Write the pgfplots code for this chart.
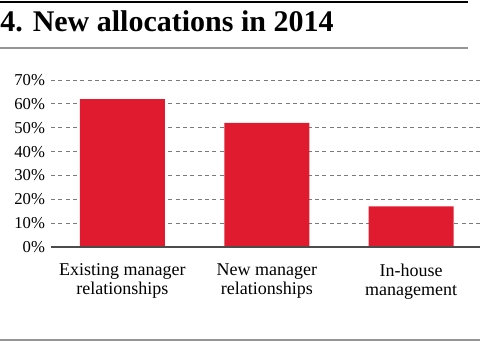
\documentclass[border=0pt]{standalone}
\usepackage{pgfplots}
\pgfplotsset{compat=1.18}
\usepackage{fontspec}
\setmainfont{Liberation Serif}
\definecolor{barred}{HTML}{E01B2F}
\definecolor{gridgray}{HTML}{7A7A7A}
\begin{document}
\begin{tikzpicture}
\useasboundingbox (0pt,0pt) rectangle (360pt,256.5pt);
% decorative rules
\draw[black, line width=2.2pt] (0pt,255pt) -- (351pt,255pt);
\draw[gridgray!80, line width=0.8pt] (0pt,220.5pt) -- (351pt,220.5pt);
\draw[gridgray!80, line width=0.8pt] (0pt,1.5pt) -- (360pt,1.5pt);
\node[anchor=base west, inner sep=0pt, font=\fontsize{22.5}{26}\selectfont\bfseries] at (0pt,233pt) {4. New allocations in 2014};
\begin{axis}[
  at={(38.25pt,71.25pt)}, anchor=south west,
  scale only axis, width=321.75pt, height=125.25pt,
  ymin=0, ymax=70, ytick={0,10,...,70},
  xmin=-0.495, xmax=2.477,
  xtick={0,1,2},
  xticklabels={Existing manager\\relationships, New manager\\relationships, In-house\\management},
  xticklabel style={align=center, font=\fontsize{13.5}{14.5}\selectfont, yshift=-9pt},
  yticklabel={\pgfmathprintnumber{\tick}\%},
  yticklabel style={font=\fontsize{12.5}{13}\selectfont, xshift=-1pt},
  /pgf/number format/assume math mode=true,
  axis lines*=left,
  y axis line style={draw=none},
  x axis line style={draw=black!70, line width=1pt},
  major tick length=0pt,
  ymajorgrids, major grid style={dash pattern=on 3pt off 2.5pt, gridgray, line width=0.6pt},
  clip=false,
]
\addplot[ybar, bar width=63.75pt, fill=barred, draw=none] coordinates {(0,62) (1,52) (2,17)};
\draw[black!70, line width=1pt] (axis cs:-0.495,0) -- (axis cs:2.477,0);
\end{axis}
\end{tikzpicture}
\end{document}
